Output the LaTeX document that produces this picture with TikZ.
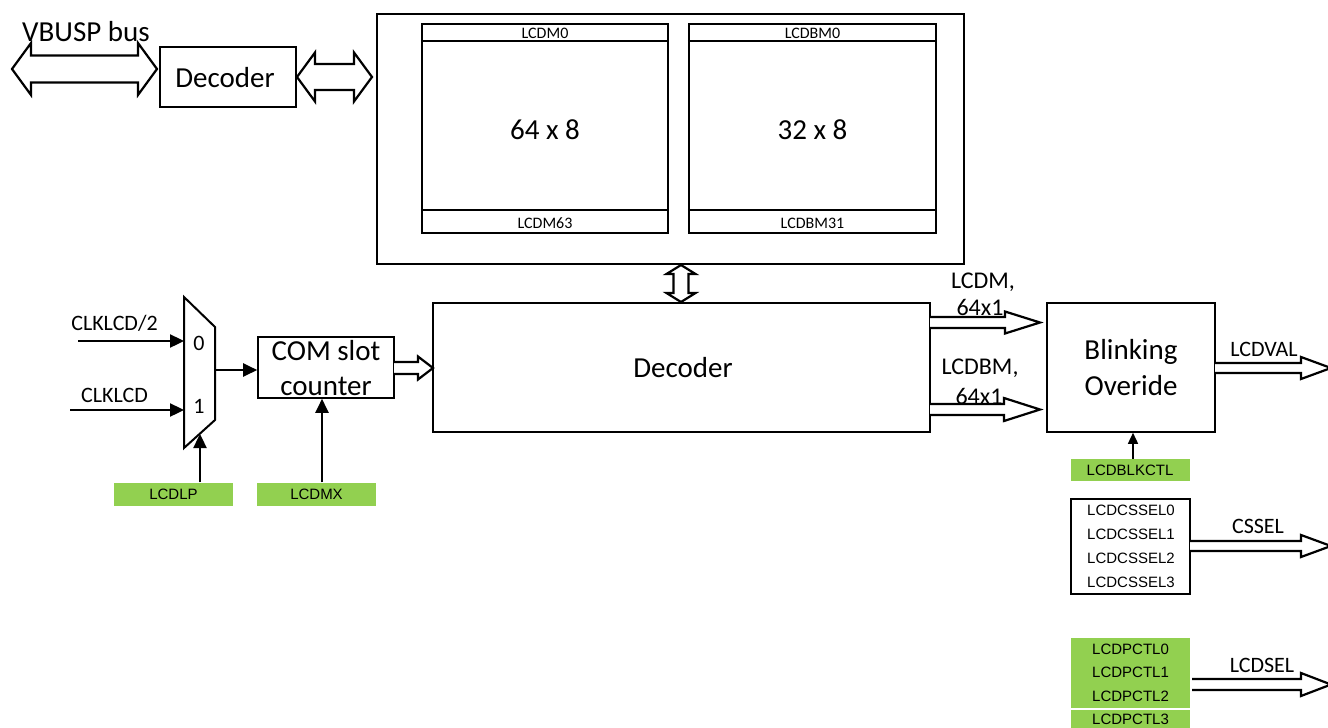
\documentclass[tikz,border=0pt]{standalone}
\usepackage{fontspec}
\setmainfont{Carlito}
\newfontfamily\arialf{Liberation Sans}
\usetikzlibrary{arrows.meta,calc}
\definecolor{lgreen}{RGB}{146,208,80}
\newcommand{\fs}[1]{\fontsize{#1}{#1}\selectfont}
% right-pointing hollow bus arrow: x0, x1(tip), yc, shaft half, head half, head length
\newcommand{\busR}[6]{\draw[bus] ({#1},{#3-#4}) -- ({#2-#6},{#3-#4}) -- ({#2-#6},{#3-#5}) -- ({#2},{#3}) -- ({#2-#6},{#3+#5}) -- ({#2-#6},{#3+#4}) -- ({#1},{#3+#4});}
% horizontal double-headed hollow bus arrow
\newcommand{\busLR}[6]{\draw[bus] ({#1},{#3}) -- ({#1+#6},{#3-#5}) -- ({#1+#6},{#3-#4}) -- ({#2-#6},{#3-#4}) -- ({#2-#6},{#3-#5}) -- ({#2},{#3}) -- ({#2-#6},{#3+#5}) -- ({#2-#6},{#3+#4}) -- ({#1+#6},{#3+#4}) -- ({#1+#6},{#3+#5}) -- cycle;}
% vertical double-headed hollow bus arrow: y0, y1, xc, shaft half, head half, head length
\newcommand{\busUD}[6]{\draw[bus] ({#3},{#1}) -- ({#3+#5},{#1+#6}) -- ({#3+#4},{#1+#6}) -- ({#3+#4},{#2-#6}) -- ({#3+#5},{#2-#6}) -- ({#3},{#2}) -- ({#3-#5},{#2-#6}) -- ({#3-#4},{#2-#6}) -- ({#3-#4},{#1+#6}) -- ({#3-#5},{#1+#6}) -- cycle;}
\begin{document}
\begin{tikzpicture}[x=1pt,y=-1pt,
  box/.style={draw, line width=1.6pt, inner sep=0pt},
  membox/.style={draw, line width=2.4pt, inner sep=0pt},
  gbox/.style={fill=lgreen, inner sep=0pt, minimum width=119pt, minimum height=23pt},
  lbl/.style={inner sep=0pt, anchor=base},
  big/.style={lbl, font=\fs{29}},
  mid/.style={lbl, font=\fs{22}},
  sml/.style={lbl, font=\arialf\fs{15}},
  bus/.style={line width=2.2pt, line join=miter, fill=white},
  sig/.style={line width=2.4pt, -{Triangle[length=14pt,width=13pt]}},
  thin/.style={line width=1.5pt, -{Triangle[length=11pt,width=10pt]}}
]
\useasboundingbox (0,0) rectangle (1328,728);

% ---------- top: bus and decoder ----------
\node[big] (vbus) at (86,41) {VBUSP bus};
\node[box, minimum width=136pt, minimum height=60pt] (dec1) at (228,77) {};
\node[big] (dec1t) at (225,87) {Decoder};
\busLR{12}{157}{69}{13.5}{26}{19}
\busLR{297}{372}{77}{13}{24.5}{18}

% ---------- memory block ----------
\node[box, line width=2pt, minimum width=587pt, minimum height=250pt] (mem) at (670.5,138.5) {};
\node[membox, minimum width=246pt, minimum height=209pt] (m1) at (545,128.5) {};
\node[membox, minimum width=247pt, minimum height=209pt] (m2) at (812.5,128.5) {};
\draw[line width=2.4pt] (m1.north west |- 0,41) -- (m1.north east |- 0,41);
\draw[line width=2.4pt] (m1.north west |- 0,210) -- (m1.north east |- 0,210);
\draw[line width=2.4pt] (m2.north west |- 0,41) -- (m2.north east |- 0,41);
\draw[line width=2.4pt] (m2.north west |- 0,210) -- (m2.north east |- 0,210);
\node[lbl, font=\fs{16}] (m1a) at (545,38.5) {LCDM0};
\node[lbl, font=\fs{16}] (m1b) at (545,228) {LCDM63};
\node[lbl, font=\fs{16}] (m2a) at (812.5,38.5) {LCDBM0};
\node[lbl, font=\fs{16}] (m2b) at (812.5,228) {LCDBM31};
\node[big] (m1c) at (545,139) {64 x 8};
\node[big] (m2c) at (812.5,139) {32 x 8};

% ---------- vertical bus memory <-> decoder ----------
\busUD{265}{302}{681}{7.5}{14.5}{9}

% ---------- main decoder ----------
\node[box, minimum width=497pt, minimum height=129pt] (dec2) at (681.5,367.5) {};
\node[big] (dec2t) at (683,377) {Decoder};

% ---------- mux ----------
\draw[line width=2pt, line join=miter] (184,297) -- (215,327) -- (215,420) -- (184,448) -- cycle;
\coordinate (mux) at (199.5,372);
\node[mid] (m0) at (199,350) {0};
\node[mid] (m1l) at (199,413) {1};
\node[mid] (clk2) at (114.5,330) {CLKLCD/2};
\node[mid] (clk1) at (114.5,402) {CLKLCD};
\coordinate (clk2s) at (78,341);
\coordinate (clk1s) at (70,410);
\draw[sig] (clk2s) -- (184,341);
\draw[sig] (clk1s) -- (184,410);

% ---------- COM slot counter ----------
\node[box, minimum width=136pt, minimum height=61pt] (com) at (326,367.5) {};
\node[big] (comt1) at (326,360) {COM slot};
\node[big] (comt2) at (326,395) {counter};
\draw[sig] (215,370) -- (com.west |- 0,370);
\busR{394}{433}{368}{6}{11.5}{15}

% ---------- green control regs ----------
\node[gbox] (lcdlp) at (173.5,494) {};
\node[sml] at (173.5,499) {LCDLP};
\node[gbox] (lcdmx) at (316.5,494) {};
\node[sml] at (316.5,499) {LCDMX};
\draw[sig] (lcdlp.north -| 200,0) -- (200,434);
\draw[sig] (lcdmx.north -| 322,0) -- (com.south -| 322,0);

% ---------- outputs of decoder ----------
\node[lbl, font=\fs{24}] (lm1) at (983,288) {LCDM,};
\node[lbl, font=\fs{24}] (lm2) at (980,315) {64x1};
\node[lbl, font=\fs{24}] (lb1) at (980,374) {LCDBM,};
\node[lbl, font=\fs{24}] (lb2) at (979,404) {64x1};
\busR{930}{1040}{322.5}{5.5}{11}{35}
\busR{930}{1040}{409.5}{5.5}{11.5}{36}

% ---------- blinking override ----------
\node[box, minimum width=168pt, minimum height=129pt] (blk) at (1131,367.5) {};
\node[big] (blk1) at (1131,359) {Blinking};
\node[big] (blk2) at (1131,395) {Overide};
\node[mid] (lval) at (1264,356) {LCDVAL};
\busR{1215}{1331}{368}{5}{11}{30}

\node[gbox, minimum height=22pt] (blkctl) at (1130,470) {};
\node[sml] at (1130,475) {LCDBLKCTL};
\draw[thin] (blkctl.north -| 1133,0) -- (blk.south -| 1133,0);

% ---------- CSSEL ----------
\node[draw, line width=1.4pt, inner sep=0pt, minimum width=119pt, minimum height=95pt] (cs) at (1130.5,546.5) {};
\node[sml] at (1131,515) {LCDCSSEL0};
\node[sml] at (1131,539) {LCDCSSEL1};
\node[sml] at (1131,563) {LCDCSSEL2};
\node[sml] at (1131,587) {LCDCSSEL3};
\node[mid] (cssel) at (1258,533) {CSSEL};
\busR{1190}{1331}{546}{5}{11}{30}

% ---------- LCDPCTL ----------
\node[fill=lgreen, inner sep=0pt, minimum width=119pt, minimum height=90pt] (pctl) at (1130.5,683) {};
\draw[white, line width=1.5pt] (pctl.west |- 0,709) -- (pctl.east |- 0,709);
\node[sml] at (1130.5,654) {LCDPCTL0};
\node[sml] at (1130.5,677) {LCDPCTL1};
\node[sml] at (1130.5,701) {LCDPCTL2};
\node[sml] at (1130.5,724) {LCDPCTL3};
\node[mid] (lsel) at (1262,672) {LCDSEL};
\busR{1192}{1331}{684.5}{5.5}{11.5}{30}
\end{tikzpicture}
\end{document}
